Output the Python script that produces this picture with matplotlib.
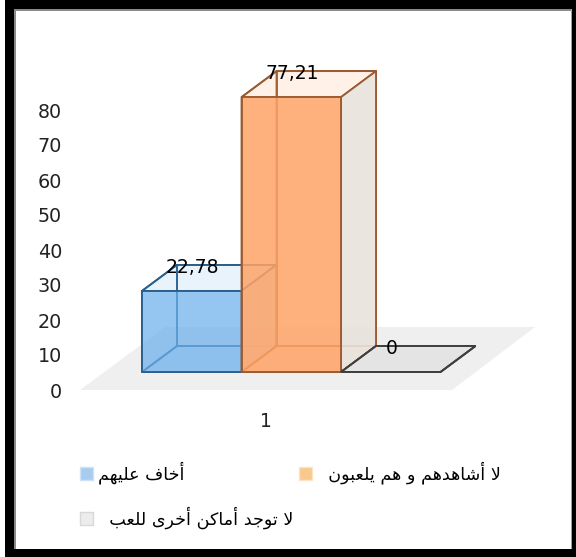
"""3D style column chart with an Arabic legend, drawn with plain polygons."""
import matplotlib
matplotlib.use("Agg")
import matplotlib.pyplot as plt
from matplotlib.patches import Patch, Polygon, Rectangle

W, H = 576, 557

labels = ["أخاف عليهم", "لا أشاهدهم و هم يلعبون", "لا توجد أماكن أخرى للعب"]
values = [22.78, 77.21, 0]
value_text = ["22,78", "77,21", "0"]
y_ticks = [0, 10, 20, 30, 40, 50, 60, 70, 80]
category = ["1"]

front_colors = ["#6fb2ec", "#ffa468", "#e4e4e4"]
edge_colors = ["#2a5f8c", "#9a5a30", "#3f3f3f"]
side_colors = ["#cfe3f5", "#e9e3dd", "#e4e4e4"]
swatch_colors = ["#a6cdf0", "#f8c98c", "#ececec"]
swatch_edges = ["#cfe2f5", "#fbe3c3", "#d8d8d8"]

BAR_LEFT = 142      # pixels
BAR_W = 99.5
DEPTH_X = 35
DEPTH_Y = 26
BASE_Y = 372
PX_PER_UNIT = 3.56

# matplotlib has no Arabic shaping, so pick the presentation forms by hand
# letter: (isolated, final, initial, medial); two forms = does not join forward
FORMS = {
    "أ": "\ufe83\ufe84", "ا": "\ufe8d\ufe8e", "د": "\ufea9\ufeaa",
    "و": "\ufeed\ufeee", "ر": "\ufead\ufeae", "ى": "\ufeef\ufef0",
    "خ": "\ufea5\ufea6\ufea7\ufea8", "ف": "\ufed1\ufed2\ufed3\ufed4",
    "ع": "\ufec9\ufeca\ufecb\ufecc", "ل": "\ufedd\ufede\ufedf\ufee0",
    "ي": "\ufef1\ufef2\ufef3\ufef4", "ه": "\ufee9\ufeea\ufeeb\ufeec",
    "م": "\ufee1\ufee2\ufee3\ufee4", "ش": "\ufeb5\ufeb6\ufeb7\ufeb8",
    "ب": "\ufe8f\ufe90\ufe91\ufe92", "ن": "\ufee5\ufee6\ufee7\ufee8",
    "ت": "\ufe95\ufe96\ufe97\ufe98", "ج": "\ufe9d\ufe9e\ufe9f\ufea0",
    "ك": "\ufed9\ufeda\ufedb\ufedc",
}


def shape(text):
    out = []
    joined = False
    i = 0
    while i < len(text):
        ch = text[i]
        if ch not in FORMS:
            out.append(ch)
            joined = False
            i += 1
            continue
        if ch == "ل" and text[i + 1:i + 2] == "ا":
            out.append("\ufefc" if joined else "\ufefb")
            joined = False
            i += 2
            continue
        forms = FORMS[ch]
        nxt = text[i + 1:i + 2]
        can_join = len(forms) == 4 and nxt in FORMS
        out.append(forms[(1 if joined else 0) + (2 if can_join else 0)]
                   if len(forms) == 4 else forms[1 if joined else 0])
        joined = can_join
        i += 1
    return "".join(reversed(out))


def py(pixel_y):
    """value on the bar axis for a picture row"""
    return (BASE_Y - pixel_y) / PX_PER_UNIT


fig = plt.figure(figsize=(W / 100, H / 100), dpi=100, facecolor="white")

# photo frame round the chart
for x, y, w, h, c in [(5, 0, 9, H, "black"), (14, 9, 2, H, "#8a8a8a"),
                      (5, 0, W, 9, "black"), (14, 9, W, 2, "#8a8a8a"),
                      (572, 0, 4, H, "black"), (570.5, 9, 1.5, H, "#a0a0a0"),
                      (5, 549, W, 8, "black")]:
    fig.add_artist(Rectangle((x / W, 1 - (y + h) / H), w / W, h / H, color=c,
                             transform=fig.transFigure, lw=0, zorder=5))

ax = fig.add_axes([0, 0, 1, 1])
ax.set_xlim(0, W)
ax.set_ylim(py(H), py(0))
ax.axis("off")
ax.patch.set_alpha(0)

dv = DEPTH_Y / PX_PER_UNIT

# floor
ax.add_patch(Polygon([(80, py(390)), (452, py(390)), (535, py(327)), (165, py(327))],
                     closed=True, fc="#efefef", ec="none", zorder=1))

for i in [2, 0, 1]:
    x0 = BAR_LEFT + i * BAR_W
    x1 = x0 + BAR_W
    v = values[i]
    z = 2 + i
    col, edge, side = front_colors[i], edge_colors[i], side_colors[i]
    faces = [
        ([(x0 + DEPTH_X, dv), (x1 + DEPTH_X, dv), (x1 + DEPTH_X, v + dv), (x0 + DEPTH_X, v + dv)], col, 0.05),
        ([(x0, 0), (x0 + DEPTH_X, dv), (x0 + DEPTH_X, v + dv), (x0, v)], col, 0.05),
        ([(x0, 0), (x1, 0), (x1 + DEPTH_X, dv), (x0 + DEPTH_X, dv)], col, 0.15 if v else 0.9),
        ([(x0, v), (x1, v), (x1 + DEPTH_X, v + dv), (x0 + DEPTH_X, v + dv)], col, 0.1),
        ([(x1, 0), (x1 + DEPTH_X, dv), (x1 + DEPTH_X, v + dv), (x1, v)], side, 0.9),
        ([(x0, 0), (x1, 0), (x1, v), (x0, v)], col, 0.85 if i == 1 else 0.72),
    ]
    for pts, c, a in faces:
        ax.add_patch(Polygon(pts, closed=True, fc=matplotlib.colors.to_rgba(c, a),
                             ec=edge, lw=1.3, zorder=z))

for i, v in enumerate(values):
    ax.annotate(value_text[i], (BAR_LEFT + (i + 0.5) * BAR_W, v + dv), xytext=(0.5, -2),
                textcoords="offset points", ha="center", va="center",
                fontsize=13.5, color="black", zorder=8)

# value axis sits lower than the bars, as in the 3D projection
tick_ax = fig.add_axes([80 / W, 1 - 390 / H, 372 / W, 280 / H])
tick_ax.patch.set_alpha(0)
tick_ax.set_ylim(0, 80)
tick_ax.set_xlim(0.5, 1.5)
tick_ax.set_yticks(y_ticks)
tick_ax.set_xticks([1], category)
tick_ax.tick_params(axis="y", length=0, pad=13, labelsize=13.8, labelcolor="#222222")
tick_ax.tick_params(axis="x", length=0, pad=16, labelsize=13.5, labelcolor="#222222")
for spine in tick_ax.spines.values():
    spine.set_visible(False)

# column-first filling puts the third entry under the first
handles = [Patch(fc=swatch_colors[i], ec=swatch_edges[i],
                 label=("  " if i else "") + shape(labels[i])) for i in [0, 2, 1]]
fig.legend(handles=handles, ncols=2, loc="lower left", bbox_to_anchor=(80 / W, 1 - 529 / H),
           frameon=False, fontsize=12.6, handlelength=0.75, handleheight=0.75,
           handletextpad=0.3, columnspacing=0.3, labelspacing=1.3, borderpad=0,
           borderaxespad=0)

fig.savefig("out.png", dpi=100)
